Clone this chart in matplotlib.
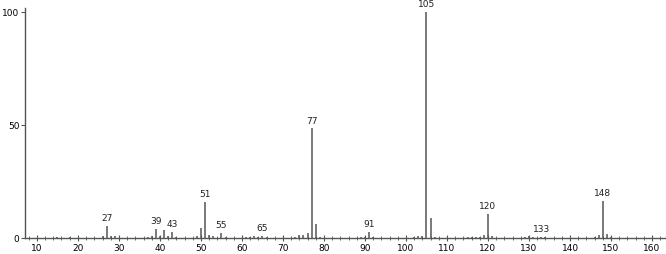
import matplotlib.pyplot as plt
import numpy as np

# m/z and relative intensity (%)
mz = [15, 18, 26, 27, 28, 29, 37, 38, 39, 40, 41, 42, 43, 44, 49, 50, 51, 52, 53, 55, 56,
      61, 62, 63, 64, 65, 66, 73, 74, 75, 76, 77, 78, 79, 89, 90, 91, 92,
      102, 103, 104, 105, 106, 107, 115, 116, 117, 118, 119, 120, 121,
      129, 130, 131, 133, 134, 146, 147, 148, 149, 150]
inten = [0.4, 0.5, 0.9, 5.4, 1.0, 0.7, 0.5, 1.0, 4.0, 0.8, 3.5, 1.0, 2.7, 0.6, 0.8, 4.4, 16.0, 1.5, 0.8, 2.2, 0.5,
         0.4, 0.6, 0.8, 0.5, 1.0, 0.5, 0.6, 1.3, 1.5, 2.2, 48.5, 6.0, 0.5, 0.5, 0.6, 2.6, 0.5,
         0.5, 0.8, 0.8, 100.0, 9.0, 0.6, 0.5, 0.6, 0.6, 0.5, 1.2, 10.6, 0.8,
         0.4, 0.9, 0.5, 0.5, 0.4, 0.4, 1.3, 16.4, 1.6, 0.5]
labeled = [27, 39, 43, 51, 55, 65, 77, 91, 105, 120, 133, 148]

fig = plt.figure(figsize=(6.66, 2.54), dpi=100)
ax = fig.add_axes([25/666, 16/254, 1 - 25/666, 1 - 24/254])

ax.vlines(mz, 0, inten, color='#555555', lw=1.1)
for m in labeled:
    h = inten[mz.index(m)]
    ax.text(m, h + 1.2, str(m), ha='center', va='bottom', fontsize=6.5, color='#222222')

ax.set_xlim(7.1, 163.4)
ax.set_ylim(0, 101.8)
ax.set_xticks(np.arange(10, 161, 10))
ax.set_xticks(np.arange(8, 164, 2), minor=True)
ax.set_yticks([0, 50, 100])
ax.tick_params(axis='x', which='major', direction='inout', length=5, labelsize=6.5, pad=2, color='#555555')
ax.tick_params(axis='x', which='minor', direction='inout', length=3, color='#555555')
ax.tick_params(axis='y', direction='out', length=3, labelsize=6.5, pad=1, color='#555555')
for s in ['top', 'right']:
    ax.spines[s].set_visible(False)
for s in ['left', 'bottom']:
    ax.spines[s].set_color('#555555')
    ax.spines[s].set_linewidth(1.0)

fig.savefig('out.png', dpi=100)
